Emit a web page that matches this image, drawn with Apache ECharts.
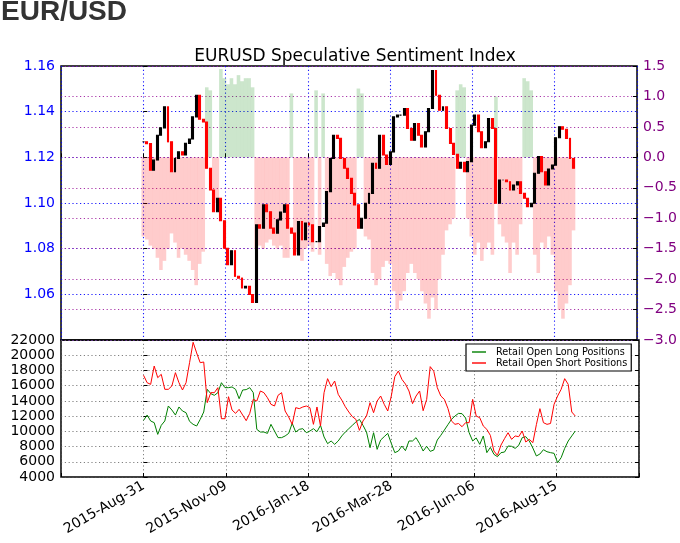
<!DOCTYPE html>
<html><head><meta charset="utf-8">
<script src="https://cdn.jsdelivr.net/npm/echarts@6/dist/echarts.min.js"></script>
<style>html,body{margin:0;padding:0;background:#fff}#c{width:680px;height:543px}</style>
</head><body><div id="c"></div>
<script>
// ---- data (one point every 3 calendar days) ----
const START_DATE = '2015-08-31';
const STEP_DAYS = 3;
const tickLabels = ['2015-Aug-31','2015-Nov-09','2016-Jan-18','2016-Mar-28','2016-Jun-06','2016-Aug-15'];

const priceClose = [
1.1268,1.1260,1.1144,1.1188,1.1297,1.1329,1.1421,1.1268,1.1137,1.1195,
1.1224,1.1210,1.1261,1.1280,1.1377,1.1472,1.1367,1.1355,1.1152,1.1057,
1.0962,1.1021,1.0922,1.0802,1.0730,1.0791,1.0679,1.0671,1.0628,1.0635,
1.0599,1.0565,1.0904,1.0890,1.0992,1.0962,1.0890,1.0868,1.0926,1.0960,
1.0992,1.0890,1.0868,1.0773,1.0919,1.0839,1.0912,1.0904,1.0831,1.0831,
1.0897,1.0912,1.1050,1.1195,1.1297,1.1283,1.1195,1.1152,1.1108,1.1042,
1.0992,1.0890,1.0933,1.0999,1.1042,1.1174,1.1152,1.1297,1.1210,1.1169,
1.1224,1.1377,1.1385,1.1385,1.1414,1.1326,1.1275,1.1348,1.1297,1.1246,
1.1312,1.1414,1.1580,1.1472,1.1406,1.1421,1.1326,1.1261,1.1213,1.1152,
1.1178,1.1137,1.1181,1.1341,1.1385,1.1312,1.1242,1.1268,1.1370,1.1326,
1.0999,1.1101,1.1101,1.1093,1.1057,1.1079,1.1093,1.1042,1.1021,1.0984,
1.0999,1.1130,1.1203,1.1137,1.1079,1.1149,1.1166,1.1286,1.1334,1.1323,
1.1283,1.1195,1.1152];

const sentiment = [
-1.30,-1.35,-1.45,-1.50,-1.65,-1.85,-1.70,-1.50,-1.25,-1.40,
-1.65,-1.50,-1.60,-1.70,-1.85,-2.10,-1.75,-1.55, 1.15, 1.10,
-0.75,-0.70, 1.45, 1.30, 1.20, 1.30, 1.20, 1.35, 1.25, 1.30,
 1.30, 1.15,-1.50,-1.45,-1.50,-1.40,-1.35,-1.45,-1.50,-1.45,
-1.65,-1.65, 1.05,-1.55,-1.60,-1.70,-1.50,-1.45,-1.55, 1.10,
-1.60, 1.05,-1.75,-1.95,-1.90,-2.00,-2.10,-1.80,-1.65,-1.55,
-1.50, 1.13, 1.05,-1.30,-1.35,-1.90,-2.10,-2.00,-1.80,-1.70,
-1.75,-2.20,-2.50,-2.35,-2.20,-1.90,-1.75,-1.90,-2.00,-2.20,
-2.40,-2.65,-2.30,-2.50,-2.00,-1.60,-1.20,-1.10,-1.00, 1.10,
 1.20, 1.15,-1.00,-1.30,-1.60,-1.40,-1.70,-1.50,-1.40,-1.60,
 1.00,-1.10,-1.30,-1.40,-1.90,-1.40,-1.60,-1.10, 1.30, 1.25,
 1.10,-1.60,-1.90,-1.40,-1.50,-1.30,-1.60,-2.20,-2.50,-2.65,
-2.40,-2.10,-1.20];

const longPositions = [
11440,12140,11360,11140, 9600,10790,11360,13330,12800,12140,
13200,12670,12450,11310,10920,10700,11570,12540,15520,14950,
14730,15080,16390,15740,15740,15830,15520,14290,15430,15480,
15740,15080,10260, 9910, 9910, 9730,10920,10040, 9170, 9170,
 9390, 9730,11050, 9910,10260,10350, 9820,10040,10350, 9950,
10790, 9260, 8380, 8730, 8290, 8730, 9390, 9910,10350,10790,
11230,11570,10790, 9910, 7850, 9820, 7630, 8860, 9300, 9730,
 8420, 7200, 7410, 8070, 7460, 8730, 8730, 9170, 8380, 7410,
 8030, 7370, 7540, 8860, 9480,10170,10870,11570,12010,12360,
12320,11750, 9820, 8730, 9130, 8290, 9390, 7200, 7890, 6980,
 6670, 7200, 7280, 8070, 8030, 7760, 8160, 9170, 9300, 8730,
 7810, 6760, 7020, 7590, 7320, 7200, 7110, 5880, 6540, 7760,
 8730, 9390,10040];

const shortPositions = [
17360,16390,16170,18580,17050,17490,15520,15520,15960,17710,
16390,15430,16390,19020,21700,20300,19020,19110,13770,15080,
15080,15740,11660,11660,14550,12800,12360,12890,12140,11400,
12360,14200,13980,15300,15080,14420,13550,13330,14730,15080,
12670,11880,10920,13110,12980,13200,13330,13110,10920,13200,
10700,15080,16920,15870,16610,14860,14110,13240,12540,11930,
11570,10130,11360,12010,13770,12450,13980,14640,13550,12670,
14640,17180,17930,16830,16210,15300,13640,14640,15300,12710,
14200,18500,17900,15740,14640,14200,13020,11360,10920,11030,
10610,11140,11140,14200,12010,11790,10700,10260, 9470, 7410,
 6850, 8200, 9040, 9820, 8950, 9390, 9300,10040, 8600, 8950,
 8510,10880,12980,11140,10920,11030,13550,14640,15520,16920,
16170,12540,12010];

// ---- build ----
const DAY = 86400000;
const BASE = Date.parse(START_DATE + 'T00:00:00Z');
const xs = priceClose.map((_, i) => Math.round((BASE + i * STEP_DAYS * DAY - BASE) / DAY));
const candles = priceClose.map((c, i) => {
  const o = i > 0 ? priceClose[i - 1] : c;
  return [xs[i], o, c, Math.min(o, c), Math.max(o, c)];
});
const FONT = 'DejaVu Sans';
const TICK_STEP = 70;

const chart = echarts.init(document.getElementById('c'), null, {renderer: 'canvas'});
const dotted = (color, op, w) => ({show: true, lineStyle: {color: color, type: [1.2, 2.6], width: w || 1.1, opacity: op}});
const tickIn = {show: true, inside: true, length: 4, lineStyle: {color: '#000', width: 1}};
const LINE_ICON = 'path://M0,0 L14,0 L14,1.4 L0,1.4 Z';

chart.setOption({
  animation: false,
  backgroundColor: '#fff',
  title: {
    text: 'EURUSD Speculative Sentiment Index', left: 350, top: 43, textAlign: 'center',
    textStyle: {fontFamily: FONT, fontSize: 17, fontWeight: 'normal', color: '#000'}
  },
  graphic: [{
    type: 'text', left: 1, top: -2,
    style: {text: 'EUR/USD', font: 'bold 28px "Liberation Sans", Arial, sans-serif', fill: '#333'}
  }],
  legend: {
    left: 466, top: 344, orient: 'vertical', padding: [3, 4, 3, 6], itemGap: 1,
    itemWidth: 14, itemHeight: 12, borderColor: '#000', borderWidth: 1.2, backgroundColor: '#fff',
    textStyle: {fontFamily: FONT, fontSize: 9.7, color: '#000', padding: [0, 0, 0, 5]},
    data: [
      {name: 'Retail Open Long Positions', icon: LINE_ICON},
      {name: 'Retail Open Short Positions', icon: LINE_ICON}
    ]
  },
  grid: [
    {left: 61, top: 66, width: 578, height: 274, show: true, borderColor: '#000', borderWidth: 1.5, backgroundColor: 'transparent'},
    {left: 61, top: 340, width: 578, height: 137, show: true, borderColor: '#000', borderWidth: 1.5, backgroundColor: 'transparent'}
  ],
  xAxis: [
    {gridIndex: 0, type: 'value', min: -70, max: 420, interval: TICK_STEP,
     axisLine: {show: false}, axisTick: tickIn, axisLabel: {show: false},
     splitLine: dotted('#0000ff', 0.9)},
    {gridIndex: 1, type: 'value', min: -70, max: 420, interval: TICK_STEP,
     axisLine: {show: false}, axisTick: tickIn,
     axisLabel: {rotate: 30, fontSize: 14, fontFamily: FONT, color: '#000', margin: 8,
       formatter: v => { const k = Math.round(v / TICK_STEP); return tickLabels[k] || ''; }},
     splitLine: dotted('#555', 0.75, 1)}
  ],
  yAxis: [
    {gridIndex: 0, type: 'value', position: 'left', min: 1.04, max: 1.16, interval: 0.02,
     axisLine: {show: false}, axisTick: tickIn,
     axisLabel: {color: '#0000ff', fontSize: 14, fontFamily: FONT, margin: 6,
       formatter: v => v < 1.05 ? '' : v.toFixed(2)},
     splitLine: dotted('#0000ff', 0.9)},
    {gridIndex: 0, type: 'value', position: 'right', min: -3, max: 1.5, interval: 0.5,
     axisLine: {show: false}, axisTick: tickIn,
     axisLabel: {color: '#800080', fontSize: 14, fontFamily: FONT, margin: 6,
       formatter: v => (v < -1e-9 ? '\u2212' : '') + Math.abs(v).toFixed(1)},
     splitLine: dotted('#a020a0', 0.9)},
    {gridIndex: 1, type: 'value', position: 'left', min: 4000, max: 22000, interval: 2000,
     axisLine: {show: false}, axisTick: tickIn,
     axisLabel: {color: '#000', fontSize: 14, fontFamily: FONT, margin: 6, formatter: v => String(v)},
     splitLine: dotted('#555', 0.75, 1)},
    {gridIndex: 1, type: 'value', position: 'right', min: 4000, max: 22000, interval: 2000,
     axisLine: {show: false}, axisTick: tickIn, axisLabel: {show: false}, splitLine: {show: false}}
  ],
  series: [
    {type: 'bar', xAxisIndex: 0, yAxisIndex: 1, barWidth: 3.6, z: 1,
     data: sentiment.map((v, i) => [xs[i], v]),
     itemStyle: {color: p => p.value[1] >= 0 ? 'rgba(0,128,0,0.2)' : 'rgba(255,0,0,0.2)'}},
    {type: 'candlestick', xAxisIndex: 0, yAxisIndex: 0, barWidth: 2.4, z: 3,
     data: candles, encode: {x: 0, y: [1, 2, 3, 4]},
     itemStyle: {color: '#000', color0: '#ff0000', borderColor: '#000', borderColor0: '#ff0000', borderWidth: 1.1}},
    {type: 'line', name: 'Retail Open Long Positions', xAxisIndex: 1, yAxisIndex: 2, symbol: 'none',
     data: longPositions.map((v, i) => [xs[i], v]),
     lineStyle: {color: '#008000', width: 1}, itemStyle: {color: '#008000'}},
    {type: 'line', name: 'Retail Open Short Positions', xAxisIndex: 1, yAxisIndex: 2, symbol: 'none',
     data: shortPositions.map((v, i) => [xs[i], v]),
     lineStyle: {color: '#ff0000', width: 1}, itemStyle: {color: '#ff0000'}}
  ]
});
</script>
</body></html>
